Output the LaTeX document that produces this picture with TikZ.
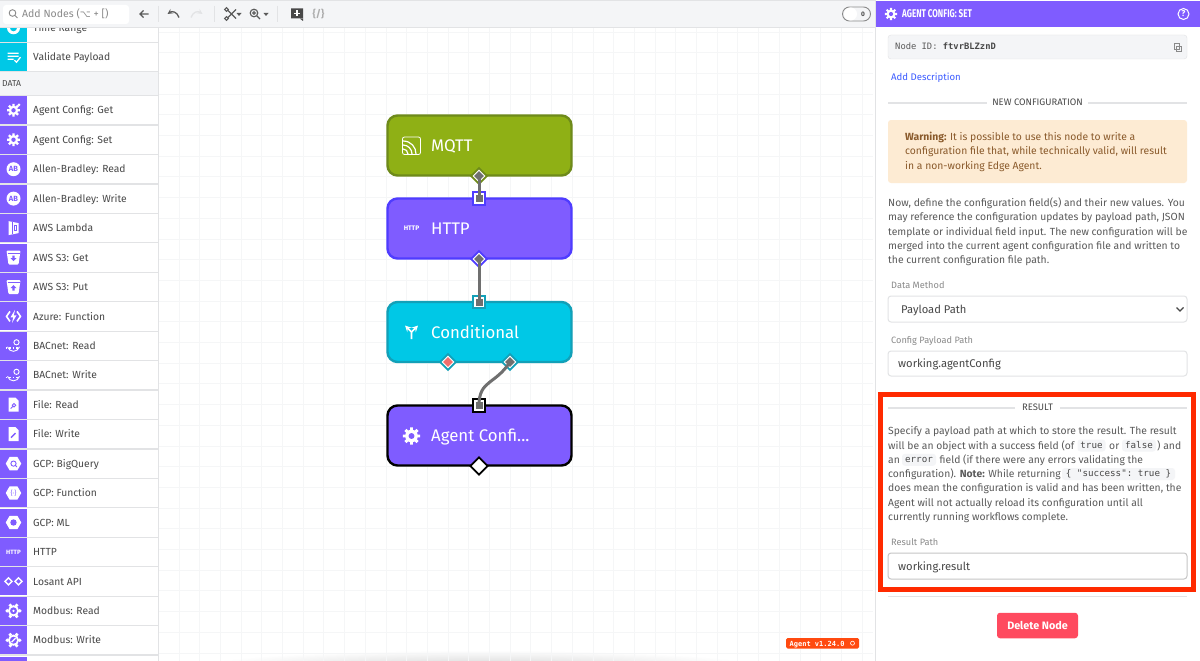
\documentclass[tikz,border=0pt]{standalone}
\usepackage{fontspec}
\setmainfont{Fira Sans}
\setmonofont{DejaVu Sans Mono}
\newfontfamily\symfont{DejaVu Sans}
\newfontfamily\headfont[FakeStretch=0.72]{Fira Sans}
\usetikzlibrary{shapes.geometric}
\definecolor{agentpurple}{HTML}{7F5CFF}
\definecolor{agentblue}{HTML}{4F3CFF}
\definecolor{agentcyan}{HTML}{00C8E6}
\definecolor{cyanedge}{HTML}{12A0B8}
\definecolor{agentolive}{HTML}{8FB015}
\definecolor{oliveedge}{HTML}{6E8A1A}
\definecolor{portgray}{HTML}{6F6F6F}
\definecolor{portred}{HTML}{F26D6D}
\definecolor{barfill}{HTML}{F4F5F7}
\definecolor{gridline}{HTML}{F5F6F7}
\definecolor{barline}{HTML}{E2E3E5}
\definecolor{listtext}{HTML}{484848}
\definecolor{bodytext}{HTML}{5A5A5A}
\definecolor{softtext}{HTML}{8A8A8A}
\definecolor{warnfill}{HTML}{FDEBD3}
\definecolor{warntext}{HTML}{8A5A2B}
\definecolor{redframe}{HTML}{FF2A00}
\definecolor{deletered}{HTML}{FF4A5F}
\definecolor{badgered}{HTML}{FF4A10}
\definecolor{linkblue}{HTML}{3B5BFF}
\newcommand{\px}[1]{\fontsize{#1}{#1}\selectfont}
\tikzset{
rowicon/.style={rectangle, inner sep=0, minimum width=27.5pt, minimum height=28pt},
rowlabel/.style={anchor=base west, inner sep=0, text=listtext, font=\px{10.3}},
rowline/.style={barline, line width=1.2},
flownode/.style={rectangle, rounded corners=10pt, line width=2.4, minimum width=184pt, minimum height=60pt, inner sep=0},
flowlabel/.style={anchor=base west, inner sep=0, text=white, font=\px{16.8}},
outport/.style={diamond, inner sep=0, minimum size=16.5pt, line width=1.8, fill=white},
outcore/.style={diamond, inner sep=0, minimum size=10pt, fill=portgray},
inport/.style={rectangle, inner sep=0, minimum size=12.5pt, line width=1.8, fill=white},
incore/.style={rectangle, inner sep=0, minimum size=7pt, fill=portgray},
wire/.style={portgray, line width=3},
bodyline/.style={anchor=base west, inner sep=0, text=bodytext, font=\px{10.35}},
warnline/.style={anchor=base west, inner sep=0, text=warntext, font=\px{10.35}},
fieldlabel/.style={anchor=base west, inner sep=0, text=softtext, font=\px{9.2}},
fieldbox/.style={draw=barline, fill=white, rounded corners=3pt, line width=1, minimum width=299pt, inner sep=0},
fieldtext/.style={anchor=base west, inner sep=0, text=listtext, font=\px{11.2}},
heading/.style={inner sep=0, text=listtext, font=\px{9.4}},
headline/.style={barline, line width=1.1},
codepill/.style={fill=barfill, rounded corners=3pt, inner sep=0, minimum height=12pt, text=listtext, font=\ttfamily\px{9.2}},
toolicon/.style={draw=none, text=bodytext},
toolstroke/.style={draw=bodytext, line width=1.1},
}
\newcommand{\icongear}[1][1]{
\draw[white, line width=2.2*#1] (0:6.4*#1)--(180:6.4*#1) (45:6.4*#1)--(225:6.4*#1) (90:6.4*#1)--(270:6.4*#1) (135:6.4*#1)--(315:6.4*#1);
\fill[white] (0,0) circle (4.7*#1);
\fill[agentpurple] (0,0) circle (2.2*#1);
}
\newcommand{\iconab}{
\fill[white] (0,0) circle (7);
\node[inner sep=0, text=agentpurple, font=\bfseries\px{7.5}] at (0,0) {AB};
}
\newcommand{\iconlambda}{
\fill[white] (-5,-7)--(5,-5)--(5,5)--(-5,7)--cycle;
\draw[agentpurple, line width=1] (-1.5,-6)--(-1.5,6);
\draw[agentpurple, line width=1] (1,-2.5) rectangle (3,2.5);
}
\newcommand{\iconbucket}{
\fill[white, rounded corners=1pt] (-7,-7)--(7,-7)--(5,7)--(-5,7)--cycle;
\draw[agentpurple, line width=.6] (-6,-4.5)--(6,-4.5);
}
\newcommand{\iconazure}{
\draw[white, line width=1.6] (-3.5,-5)--(-7,0)--(-3.5,5) (3.5,-5)--(7,0)--(3.5,5);
\fill[white] (1.5,-6.5)--(-3,1)--(-.3,1)--(-1.5,6.5)--(3,-1)--(.3,-1)--cycle;
}
\newcommand{\iconbacnet}{
\draw[white, line width=.9] (3,-3.5) circle (2.6);
\draw[white, line width=.9] (-6,1) .. controls (-4,7) and (4,7) .. (6,1);
\draw[white, line width=1.6, dotted] (-8,2)--(4,2);
}
\newcommand{\iconfile}{
\fill[white] (-5,-7)--(2,-7)--(5,-4)--(5,7)--(-5,7)--cycle;
}
\newcommand{\iconhex}{
\node[regular polygon, regular polygon sides=6, fill=white, inner sep=0, minimum size=15.5pt] at (0,0) {};
}
\newcommand{\iconhttp}{
\node[inner sep=0, text=white, font=\bfseries\px{6.2}] at (0,0) {HTTP};
}
\newcommand{\iconlosant}{
\draw[white, line width=1.5] (-5,-3.5)--(-1.5,0)--(-5,3.5)--(-8.5,0)--cycle (5,-3.5)--(8.5,0)--(5,3.5)--(1.5,0)--cycle;
}
\newcommand{\iconmodbus}{
\draw[white, line width=1.8] (0,0) circle (4.6);
\fill[white] (0:6.3) circle (1.9) (60:6.3) circle (1.9) (120:6.3) circle (1.9) (180:6.3) circle (1.9) (240:6.3) circle (1.9) (300:6.3) circle (1.9);
}
\newcommand{\sideitem}[5]{
\node[rowicon, fill=#5] (#1icon) at (13.5,#2) {};
\begin{scope}[shift={(13.5,#2)}]#4\end{scope}
\node[rowlabel] (#1label) at (33,#2+3.6) {#3};
\draw[rowline] (0,#2+14.7)--(158,#2+14.7);
}
\begin{document}
\begin{tikzpicture}[>=stealth, x=1pt, y=-1pt]
\useasboundingbox (0,0) rectangle (1200,661);
\clip (0,0) rectangle (1200,661);
\fill[white] (0,0) rectangle (1200,661);
\shade[inner color=gray!35, outer color=white] (480,668) ellipse (290 and 18);
\begin{scope}[x=1pt, y=1pt, shift={(13.4pt,-11.3pt)}]
\draw[gridline, line width=.9, xstep=20.7, ystep=20.7] (145,-650) grid (860,-10);
\end{scope}

\sideitem{timerange}{27.8}{Time Range}{\fill[white] (0,0) circle (6.5); \fill[agentcyan] (0,0) circle (3.5);}{agentcyan}
\sideitem{validate}{57.2}{Validate Payload}{\draw[white, line width=1.3] (-6,-4)--(5,-4) (-6,-1)--(5,-1) (-6,2)--(0,2) (1,3)--(3,5)--(7,0);}{agentcyan}
\node[rectangle, fill=barfill, inner sep=0, minimum width=158pt, minimum height=23pt] (datarow) at (79,83.5) {};
\node[anchor=base west, inner sep=0, text=listtext, font=\px{8.6}] (datalabel) at (2,86) {DATA};
\draw[rowline] (0,95.6)--(158,95.6);
\sideitem{configget}{110.3}{Agent Config: Get}{\icongear \fill[white] (5.5,-5.5) circle (1.5);}{agentpurple}
\sideitem{configset}{139.7}{Agent Config: Set}{\icongear}{agentpurple}
\sideitem{abread}{169.2}{Allen-Bradley: Read}{\iconab}{agentpurple}
\sideitem{abwrite}{198.6}{Allen-Bradley: Write}{\iconab}{agentpurple}
\sideitem{lambda}{228.1}{AWS Lambda}{\iconlambda}{agentpurple}
\sideitem{sthreeget}{257.5}{AWS S3: Get}{\iconbucket \fill[agentpurple] (-1.2,-2)--(1.2,-2)--(1.2,.5)--(3,.5)--(0,3.5)--(-3,.5)--(-1.2,.5)--cycle;}{agentpurple}
\sideitem{sthreeput}{287}{AWS S3: Put}{\iconbucket \fill[agentpurple] (-1.2,3.5)--(1.2,3.5)--(1.2,1)--(3,1)--(0,-2)--(-3,1)--(-1.2,1)--cycle;}{agentpurple}
\sideitem{azure}{316.4}{Azure: Function}{\iconazure}{agentpurple}
\sideitem{bacread}{345.8}{BACnet: Read}{\iconbacnet}{agentpurple}
\sideitem{bacwrite}{375.3}{BACnet: Write}{\iconbacnet}{agentpurple}
\sideitem{fileread}{404.7}{File: Read}{\iconfile \draw[agentpurple, line width=.9] (.5,.5) circle (1.8) (-.8,1.8)--(-2.8,3.8);}{agentpurple}
\sideitem{filewrite}{434.2}{File: Write}{\iconfile \draw[agentpurple, line width=1.4] (-2.5,3.5)--(2,-1);}{agentpurple}
\sideitem{bigquery}{463.6}{GCP: BigQuery}{\iconhex \draw[agentpurple, line width=.9] (0,0) circle (2.6) (1.8,1.8)--(3.4,3.4);}{agentpurple}
\sideitem{gcpfunction}{493}{GCP: Function}{\iconhex \node[inner sep=0, text=agentpurple, font=\px{6.5}] at (0,0) {\{·\}};}{agentpurple}
\sideitem{gcpml}{522.5}{GCP: ML}{\iconhex \fill[agentpurple] (0,0) circle (3.2);}{agentpurple}
\sideitem{httpitem}{551.9}{HTTP}{\iconhttp}{agentpurple}
\sideitem{losant}{581.4}{Losant API}{\iconlosant}{agentpurple}
\sideitem{modread}{610.8}{Modbus: Read}{\iconmodbus \fill[white] (0,0) circle (1.3);}{agentpurple}
\sideitem{modwrite}{640.2}{Modbus: Write}{\iconmodbus \draw[white, line width=1.2] (-2,2)--(2,-2);}{agentpurple}
\node[rowicon, fill=agentpurple] (nexticon) at (13.5,671) {};
\draw[barline, line width=1] (158.5,27)--(158.5,661);

\fill[barfill] (0,0) rectangle (875,27);
\draw[barline, line width=1] (0,.5)--(875,.5);
\draw[barline, line width=1] (0,27.5)--(875,27.5);
\node[rectangle, fill=white, rounded corners=3pt, inner sep=0, minimum width=126pt, minimum height=19pt] (searchbox) at (66,14.5) {};
\draw[softtext, line width=.9] (12.5,13) circle (3.3) (15,15.5)--(17.5,18);
\node[anchor=base west, inner sep=0, text=softtext, font=\px{10.5}] (searchtext) at (22,18) {Add Nodes ({\symfont\px{9.5}⌥} + [)};
\draw[toolstroke] (148.5,14)--(140,14) (143.5,10.5)--(140,14)--(143.5,17.5);
\draw[barline, line width=1] (158,6)--(158,22);
\draw[->, bodytext, line width=1.3] (179,17.5) .. controls (177,11.5) and (172,11) .. (167.5,14);
\draw[->, barline, line width=1.3] (191,17.5) .. controls (193,11.5) and (198,11) .. (202.5,14);
\draw[barline, line width=1] (214.5,6)--(214.5,22);
\draw[toolstroke] (226.5,9.5) circle (1.9) (226.5,18.5) circle (1.9) (228,10.5)--(236,18.5) (228,17.5)--(236,9.5);
\fill[bodytext] (236.5,13)--(241.5,13)--(239,16)--cycle;
\draw[toolstroke] (254,13) circle (3.8) (257,16)--(260,19) (252,13)--(256,13) (254,11)--(254,15);
\fill[bodytext] (263.5,13)--(268.5,13)--(266,16)--cycle;
\draw[barline, line width=1] (277,6)--(277,22);
\fill[listtext] (291,8.5) rectangle (303,18.5) (299,18)--(303,18)--(303,21)--cycle;
\draw[white, line width=1.3] (297,10.5)--(297,16.5) (294,13.5)--(300,13.5);
\node[toolicon, inner sep=0, text=softtext!70, font=\bfseries\px{10}] (jsonicon) at (318.5,14) {\{/\}};
\node[rectangle, rounded corners=7pt, draw=softtext, fill=barfill, line width=.9, inner sep=0, minimum width=28pt, minimum height=14pt] (togglebox) at (856.5,14) {};
\node[circle, fill=white, inner sep=0, minimum size=13pt] (toggleknob) at (850.5,14) {};
\node[inner sep=0, text=listtext, font=\bfseries\px{6.5}] (togglezero) at (863,14.3) {0};

\node[flownode, fill=agentolive, draw=oliveedge] (mqtt) at (479.5,145.5) {};
\node[flownode, fill=agentpurple, draw=agentblue] (http) at (479.5,228.5) {};
\node[flownode, fill=agentcyan, draw=cyanedge] (conditional) at (479.5,332) {};
\node[flownode, fill=agentpurple, draw=black] (agentconfig) at (479.5,435.5) {};
\draw[white, line width=.8, rounded corners=2pt] (402.5,137)rectangle(420.5,154.5);
\draw[white, line width=1.2] (403,141) .. controls (411,141) and (416,147) .. (416,154);
\draw[white, line width=1.2] (403,145) .. controls (408,145) and (412,149) .. (412,154);
\draw[white, line width=1.2] (403,149) .. controls (405.5,149) and (408,151) .. (408,154);
\node[flowlabel] (mqttlabel) at (431,151) {MQTT};
\node[inner sep=0, text=white, font=\bfseries\px{6.6}] (httpicon) at (411.5,228) {HTTP};
\node[flowlabel] (httplabel) at (431,234) {HTTP};
\draw[->, white, line width=1.7] (411.5,339)--(411.5,332)--(405,325.5);
\draw[->, white, line width=1.7] (411.5,332)--(418,325.5);
\node[flowlabel] (conditionallabel) at (431,338) {Conditional};
\begin{scope}[shift={(411.5,436)}]\icongear[1.35]\end{scope}
\node[flowlabel] (agentconfiglabel) at (431,441.5) {Agent Confi...};

\node[outport, draw=oliveedge] (mqttout) at (479,176) {};
\node[outcore] (mqttcore) at (479,176) {};
\node[inport, draw=agentblue] (httpin) at (479,198.5) {};
\node[incore] (httpincore) at (479,198.5) {};
\node[outport, draw=agentblue] (httpout) at (479,259) {};
\node[outcore] (httpoutcore) at (479,259) {};
\node[inport, draw=cyanedge] (conditionalin) at (479,302) {};
\node[incore] (conditionalincore) at (479,302) {};
\node[outport, draw=cyanedge] (falseout) at (448,362) {};
\node[outcore, fill=portred] (falsecore) at (448,362) {};
\node[outport, draw=cyanedge] (trueout) at (510,362) {};
\node[outcore] (truecore) at (510,362) {};
\node[inport, draw=black] (agentconfigin) at (479,405.5) {};
\node[incore] (agentconfigincore) at (479,405.5) {};
\node[outport, minimum size=18pt, draw=black] (agentconfigout) at (479,466) {};
\draw[wire] (mqttout.center)--(httpin.center);
\draw[wire] (httpout.center)--(conditionalin.center);
\draw[wire] (trueout.center) .. controls (495,385) and (479,380) .. (agentconfigin.center);
\fill[badgered, rounded corners=1.5pt] (786,638) rectangle (859,648.5);
\node[anchor=base west, inner sep=0, text=white, font=\ttfamily\bfseries\px{7}] (versionbadge) at (789.5,646) {Agent v1.24.0};
\draw[white, line width=.6] (852.5,643.2) circle (2);

\fill[white] (875,0) rectangle (1200,661);
\draw[barline, line width=1] (875.5,0)--(875.5,661);
\fill[agentpurple] (876,1) rectangle (1200,27);
\begin{scope}[shift={(891,14)}]\icongear[.95]\end{scope}
\node[anchor=base west, inner sep=0, text=white, font=\headfont\bfseries\px{11.2}] (paneltitle) at (902,18) {AGENT CONFIG: SET};
\node[circle, draw=white, line width=1, inner sep=0, minimum size=11pt, text=white, font=\bfseries\px{8.5}] (helpicon) at (1183.5,14) {?};
\node[rectangle, draw=barline, fill=barfill, rounded corners=3pt, inner sep=0, minimum width=299pt, minimum height=24pt] (nodeidbox) at (1037.5,47) {};
\node[anchor=base west, inner sep=0, text=bodytext, font=\ttfamily\px{8.8}] (nodeidtext) at (895,49.8) {Node ID: {\bfseries\color{listtext}ftvrBLZznD}};
\draw[softtext, line width=.8] (1174,43.5) rectangle (1179,49) (1176,46) rectangle (1181,51.5);
\node[anchor=base west, inner sep=0, text=linkblue, font=\px{9.6}] (adddescription) at (891,80.5) {Add Description};
\node[heading] (newconfig) at (1037.5,102) {NEW CONFIGURATION};
\draw[headline] (888,103)--(987,103);
\draw[headline] (1088,103)--(1187,103);
\node[rectangle, fill=warnfill, rounded corners=3pt, inner sep=0, minimum width=299pt, minimum height=63pt] (warnbox) at (1037.5,151.5) {};
\node[warnline] (warnone) at (905,140.5) {{\bfseries Warning:} It is possible to use this node to write a};
\node[warnline] (warntwo) at (905,154.7) {configuration file that, while technically valid, will result};
\node[warnline] (warnthree) at (905,169) {in a non-working Edge Agent.};
\node[bodyline] (bodyone) at (888,206.5) {Now, define the configuration field(s) and their new values. You};
\node[bodyline] (bodytwo) at (888,220.8) {may reference the configuration updates by payload path, JSON};
\node[bodyline] (bodythree) at (888,235) {template or individual field input. The new configuration will be};
\node[bodyline] (bodyfour) at (888,249.3) {merged into the current agent configuration file and written to};
\node[bodyline] (bodyfive) at (888,263.6) {the current configuration file path.};
\node[fieldlabel] (methodlabel) at (891,288) {Data Method};
\node[fieldbox, minimum height=26pt] (methodbox) at (1037.5,309) {};
\node[fieldtext] (methodtext) at (901,313) {Payload Path};
\draw[listtext, line width=1.2] (1176.5,307.5)--(1180,311)--(1183.5,307.5);
\node[fieldlabel] (configlabel) at (891,343) {Config Payload Path};
\node[fieldbox, minimum height=25pt] (configbox) at (1037.5,363.5) {};
\node[fieldtext] (configtext) at (898,367.5) {working.agentConfig};

\draw[redframe, line width=5] (880,394) rectangle (1193,589);
\node[heading] (resulthead) at (1037.5,407) {RESULT};
\draw[headline] (888,408)--(1015,408);
\draw[headline] (1060,408)--(1187,408);
\node[bodyline] (resultone) at (888,434.7) {Specify a payload path at which to store the result. The result};
\node[bodyline] (resulttwo) at (888,449) {will be an object with a success field (of};
\node[codepill, minimum width=28pt] (codetrue) at (1091.5,445.5) {true};
\node[bodyline] (resultor) at (1109,449) {or};
\node[codepill, minimum width=34pt] (codefalse) at (1139,445.5) {false};
\node[bodyline] (resultand) at (1157,449) {) and};
\node[bodyline] (resultan) at (888,463.3) {an};
\node[codepill, minimum width=34pt] (codeerror) at (919,459.8) {error};
\node[bodyline] (resultthree) at (939.5,463.3) {field (if there were any errors validating the};
\node[bodyline] (resultfour) at (888,477.6) {configuration). {\bfseries Note:} While returning};
\node[codepill, minimum width=113pt] (codesuccess) at (1118.5,474) {\{ "success": true \}};
\node[bodyline] (resultfive) at (888,491.9) {does mean the configuration is valid and has been written, the};
\node[bodyline] (resultsix) at (888,506.2) {Agent will not actually reload its configuration until all};
\node[bodyline] (resultseven) at (888,520.5) {currently running workflows complete.};
\node[fieldlabel] (resultlabel) at (891,545) {Result Path};
\node[fieldbox, draw=gray!45, minimum height=26pt] (resultbox) at (1037.5,566) {};
\node[fieldtext] (resulttext) at (898,570) {working.result};
\draw[headline] (888,596.5)--(1187,596.5);
\node[rectangle, fill=deletered, rounded corners=3pt, inner sep=0, minimum width=81pt, minimum height=25.5pt, text=white, font=\bfseries\px{10.8}] (deletebutton) at (1037.5,625.5) {Delete Node};
\end{tikzpicture}
\end{document}
